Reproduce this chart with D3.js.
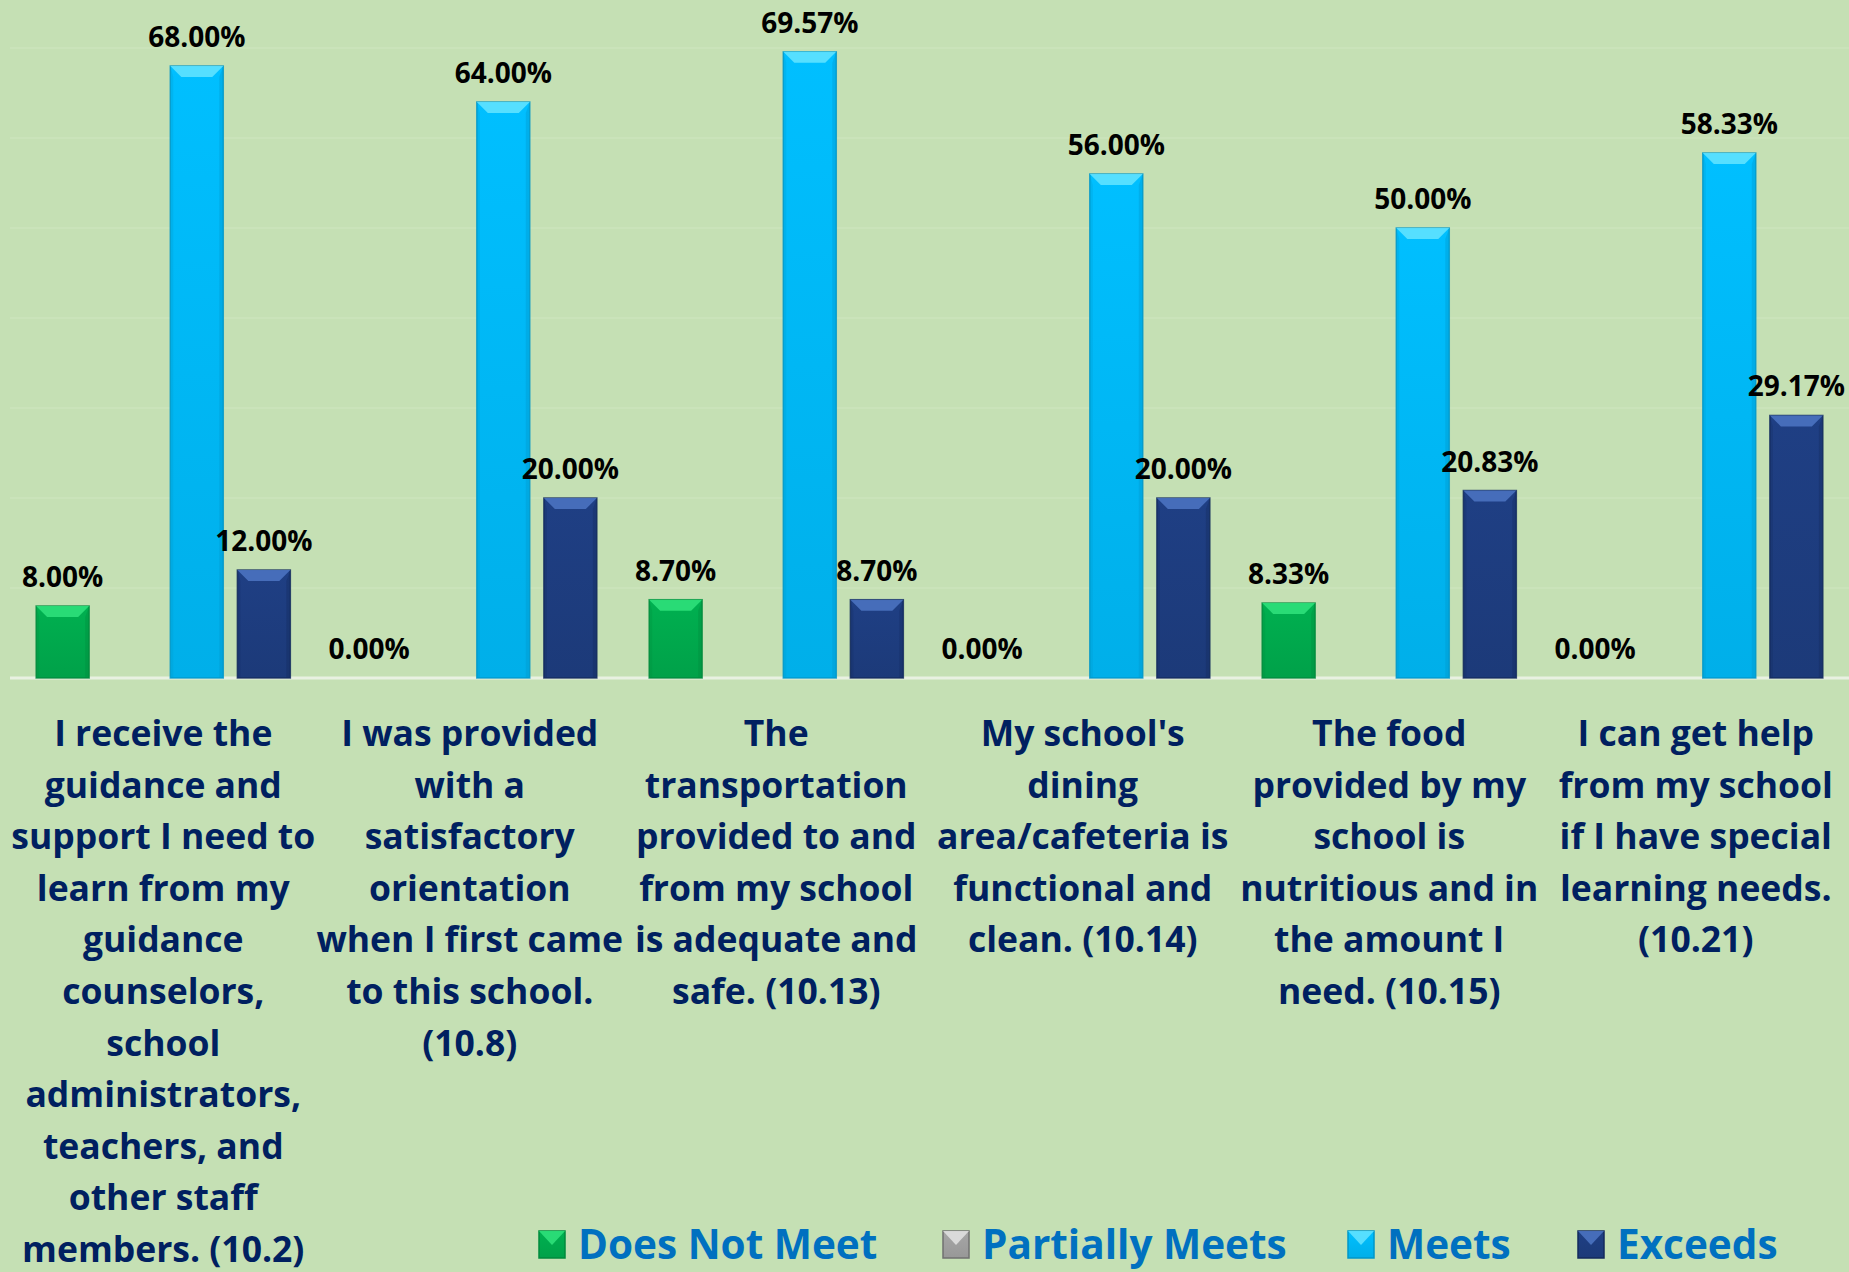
<!DOCTYPE html>
<html>
<head>
<meta charset="utf-8">
<script src="https://cdn.jsdelivr.net/npm/d3@7"></script>
<style>
  body { margin: 0; background: #c5e0b4; overflow: hidden; }
  text { font-family: "Open Sans", Lato, sans-serif; font-weight: bold; }
</style>
</head>
<body>
<div id="chart"></div>
<script>
// chart data
const categories = [
  ["I receive the", "guidance and", "support I need to", "learn from my", "guidance", "counselors,", "school", "administrators,", "teachers, and", "other staff", "members. (10.2)"],
  ["I was provided", "with a", "satisfactory", "orientation", "when I first came", "to this school.", "(10.8)"],
  ["The", "transportation", "provided to and", "from my school", "is adequate and", "safe. (10.13)"],
  ["My school's", "dining", "area/cafeteria is", "functional and", "clean. (10.14)"],
  ["The food", "provided by my", "school is", "nutritious and in", "the amount I", "need. (10.15)"],
  ["I can get help", "from my school", "if I have special", "learning needs.", "(10.21)"]
];
const seriesNames = ["Does Not Meet", "Partially Meets", "Meets", "Exceeds"];
const doesNotMeet    = [8.00, 0.00, 8.70, 0.00, 8.33, 0.00];
const partiallyMeets = [null, null, null, null, null, null];
const meets          = [68.00, 64.00, 69.57, 56.00, 50.00, 58.33];
const exceeds        = [12.00, 20.00, 8.70, 20.00, 20.83, 29.17];

const seriesValues = [doesNotMeet, partiallyMeets, meets, exceeds];
const colors = {
  "Does Not Meet":   ["#2ee07a", "#00b050", "#008a3c"],
  "Partially Meets": ["#e0e0e0", "#a6a6a6", "#707070"],
  "Meets":           ["#5fe2ff", "#00bfff", "#0096c8"],
  "Exceeds":         ["#4a72c0", "#1f3f84", "#132a5c"]
};

const W = 1849, H = 1272;
const svg = d3.select("#chart").append("svg")
  .attr("width", W).attr("height", H);

svg.append("rect").attr("width", W).attr("height", H).attr("fill", "#c5e0b4");

// gradients
const defs = svg.append("defs");
seriesNames.forEach((s, i) => {
  const g = defs.append("linearGradient").attr("id", "grad" + i)
    .attr("x1", 0).attr("y1", 0).attr("x2", 0).attr("y2", 1);
  g.append("stop").attr("offset", "0%").attr("stop-color", colors[s][1]);
  g.append("stop").attr("offset", "100%").attr("stop-color", d3.color(colors[s][1]).darker(0.25));
});

const x0 = d3.scaleBand()
  .domain(d3.range(categories.length))
  .range([10, W]);

const x1 = d3.scaleBand()
  .domain(seriesNames)
  .range([0, x0.bandwidth()])
  .paddingInner(0.21)
  .paddingOuter(0.39);

const y = d3.scaleLinear()
  .domain([0, 70])
  .range([678, 48]);

// faint gridlines
svg.append("g")
  .selectAll("line")
  .data(y.ticks(7).filter(t => t > 0))
  .join("line")
    .attr("x1", 10).attr("x2", W)
    .attr("y1", d => y(d)).attr("y2", d => y(d))
    .attr("stroke", "#cfe6c0").attr("stroke-width", 1);

// baseline
svg.append("line")
  .attr("x1", 10).attr("x2", W)
  .attr("y1", y(0)).attr("y2", y(0))
  .attr("stroke", "#e9f1e2").attr("stroke-width", 3);

// bars
const groups = svg.append("g")
  .selectAll("g")
  .data(categories)
  .join("g")
    .attr("transform", (d, i) => `translate(${x0(i)},0)`);

const bars = groups.selectAll("g.bar")
  .data((d, i) => seriesNames.map((s, j) => ({s, j, v: seriesValues[j][i]})))
  .join("g").attr("class", "bar");

const bw = x1.bandwidth();
bars.filter(d => d.v !== null && d.v > 0).each(function(d) {
  const g = d3.select(this);
  const bx = x1(d.s), by = y(d.v), bh = y(0) - y(d.v);
  const bev = Math.min(11, bh / 2);
  g.append("rect")
    .attr("x", bx).attr("y", by).attr("width", bw).attr("height", bh)
    .attr("fill", `url(#grad${d.j})`)
    .attr("stroke", d3.color(colors[d.s][2]).copy({opacity: 0.8}))
    .attr("stroke-width", 1.5);
  // top bevel
  g.append("path")
    .attr("d", `M${bx},${by}L${bx + bw},${by}L${bx + bw - bev},${by + bev}L${bx + bev},${by + bev}Z`)
    .attr("fill", colors[d.s][0]).attr("opacity", 0.9);
  // side shading
  g.append("path")
    .attr("d", `M${bx + bw},${by}L${bx + bw - 4},${by + bev}L${bx + bw - 4},${y(0)}L${bx + bw},${y(0)}Z`)
    .attr("fill", colors[d.s][2]).attr("opacity", 0.35);
  g.append("path")
    .attr("d", `M${bx},${by}L${bx + 3},${by + bev}L${bx + 3},${y(0)}L${bx},${y(0)}Z`)
    .attr("fill", colors[d.s][2]).attr("opacity", 0.25);
});

// data labels
bars.filter(d => d.v !== null)
  .append("text")
    .attr("x", d => x1(d.s) + bw / 2)
    .attr("y", d => y(d.v) - 19)
    .attr("text-anchor", "middle")
    .attr("font-size", 28)
    .attr("fill", "#000")
    .text(d => d.v.toFixed(2) + "%");

// category labels
groups.append("text")
  .attr("text-anchor", "middle")
  .attr("font-size", 35.5)
  .attr("fill", "#002060")
  .selectAll("tspan")
  .data(d => d)
  .join("tspan")
    .attr("x", x0.bandwidth() / 2)
    .attr("y", (d, i) => 746 + i * 51.6)
    .text(d => d);

// legend
const legendX = [539, 943, 1348, 1578];
const legend = svg.append("g")
  .selectAll("g")
  .data(seriesNames)
  .join("g")
    .attr("transform", (d, i) => `translate(${legendX[i]},1231)`);

legend.append("rect")
  .attr("width", 26).attr("height", 27)
  .attr("fill", (d, i) => `url(#grad${i})`)
  .attr("stroke", d => colors[d][2]).attr("stroke-width", 1.5);
legend.append("path")
  .attr("d", "M0,0L26,0L13,14Z")
  .attr("fill", d => colors[d][0]).attr("opacity", 0.9);

legend.append("text")
  .attr("x", 39).attr("y", 28)
  .attr("font-size", 40.5)
  .attr("fill", "#0070c0")
  .text(d => d);
</script>
</body>
</html>
